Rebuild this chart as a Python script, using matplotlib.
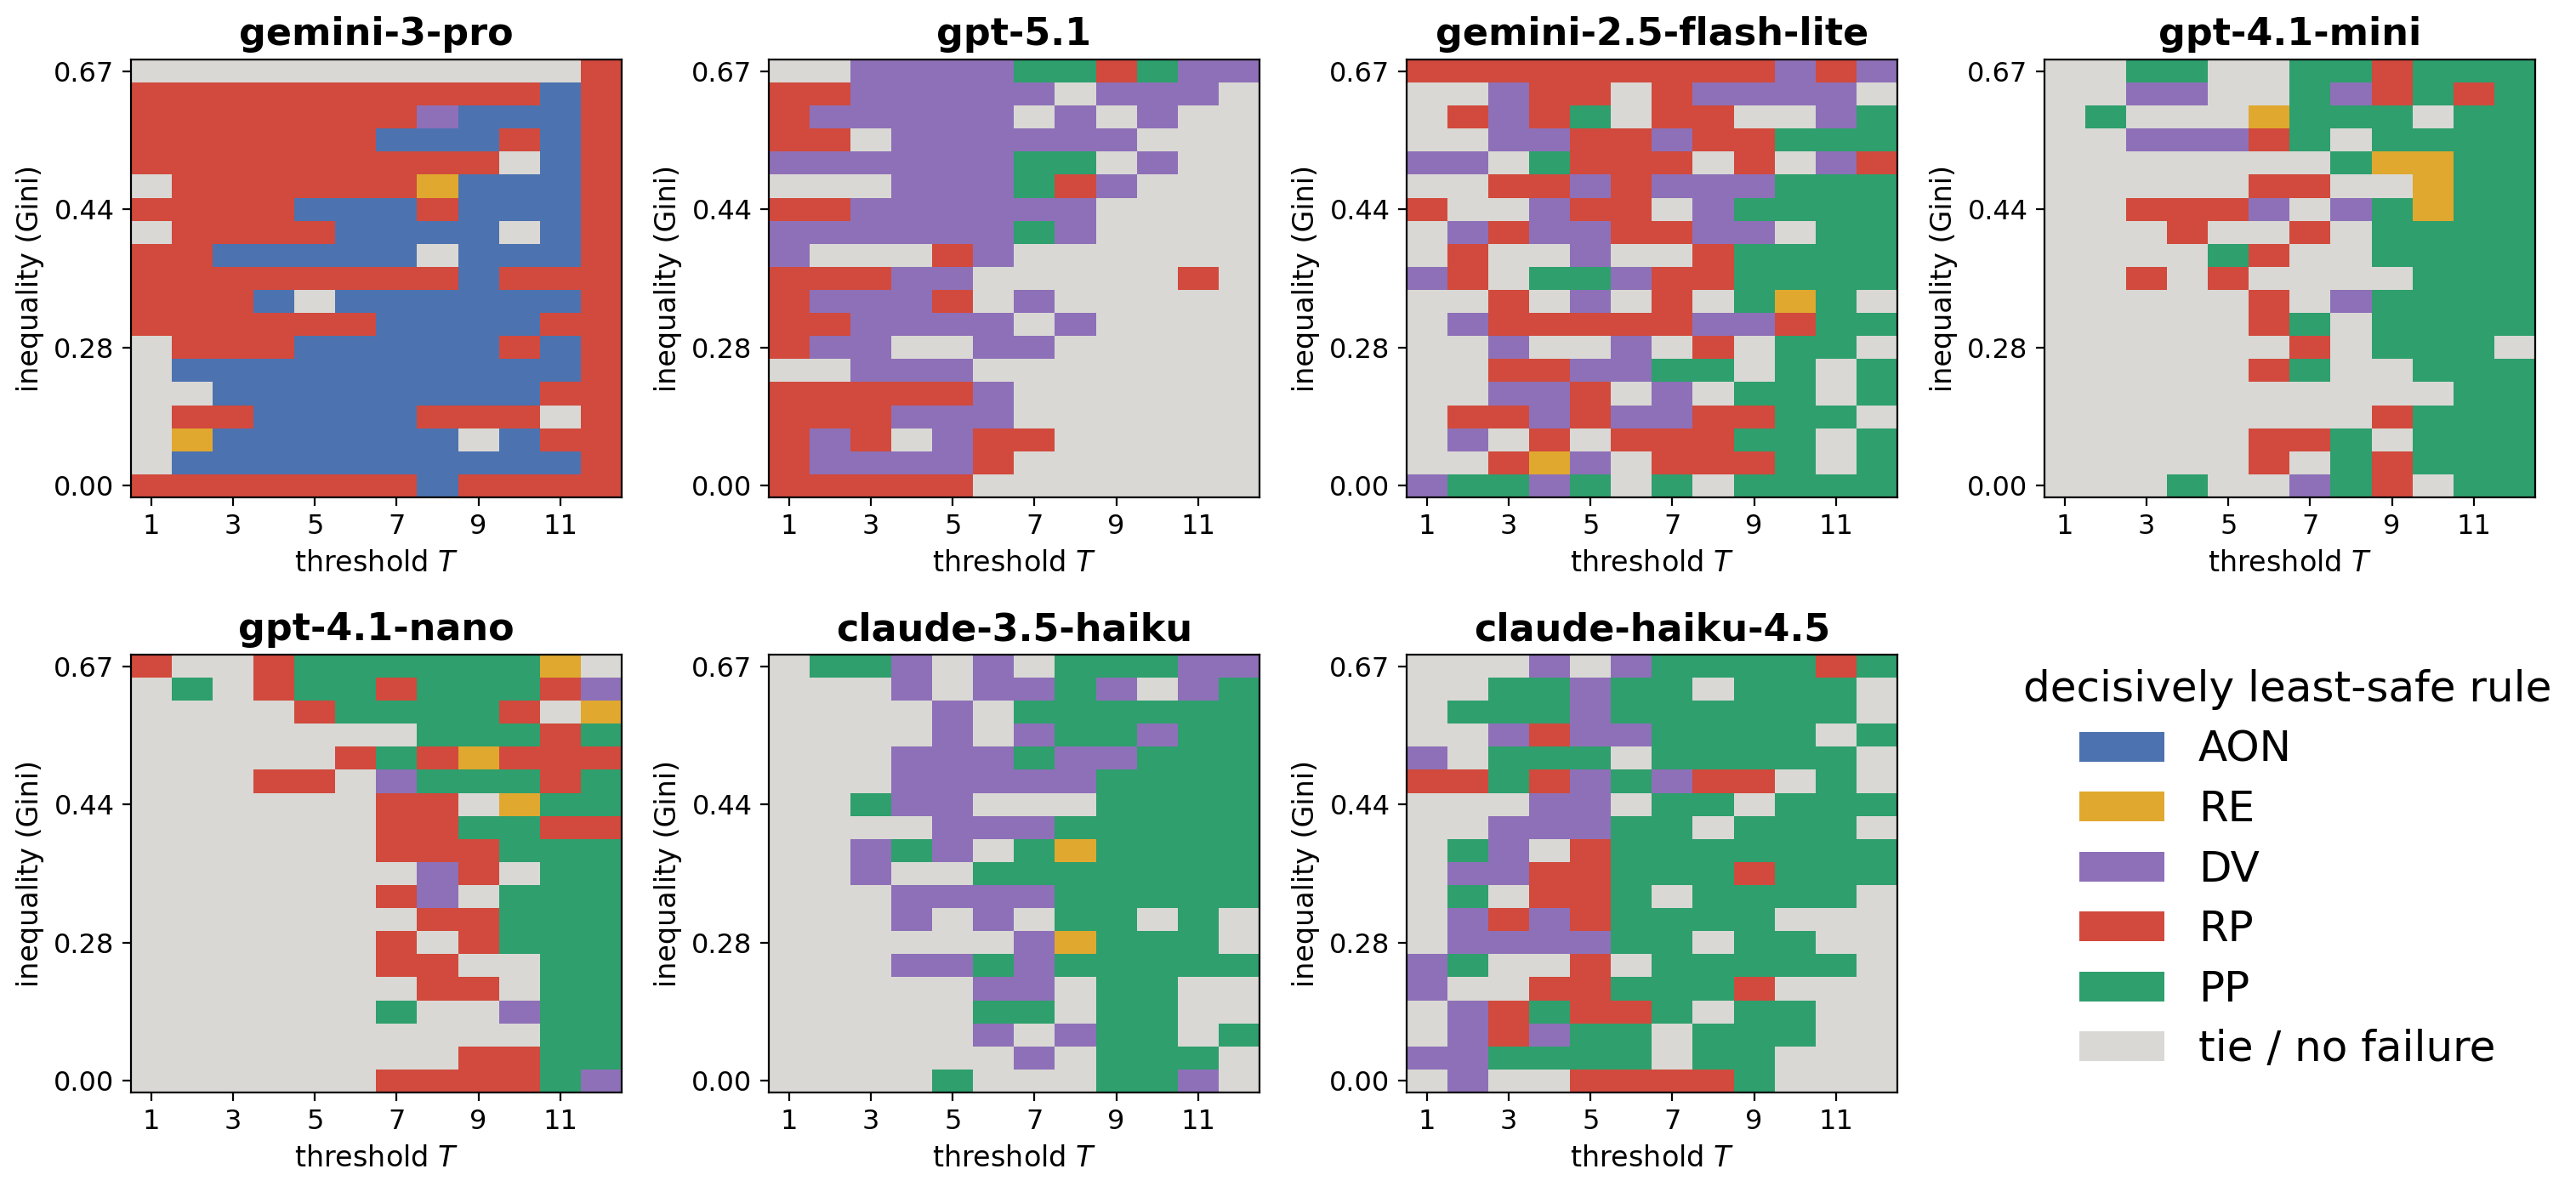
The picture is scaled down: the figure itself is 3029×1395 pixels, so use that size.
import matplotlib
matplotlib.use("Agg")
import matplotlib.pyplot as plt
import numpy as np
from matplotlib.colors import ListedColormap
from matplotlib.patches import Patch

# rule codes: A=AON, E=RE, D=DV, R=RP, P=PP, N=tie / no failure
rule_codes = ['A', 'E', 'D', 'R', 'P', 'N']
rule_names = ['AON', 'RE', 'DV', 'RP', 'PP', 'tie / no failure']
rule_colors = ['#4C72B0', '#E0A82E', '#8E70B8', '#D14A3D', '#2E9F6D', '#D9D8D4']

thresholds = list(range(1, 13))
gini_tick_rows = [0, 6, 12, 18]
gini_tick_labels = ['0.00', '0.28', '0.44', '0.67']

models = ['gemini-3-pro', 'gpt-5.1', 'gemini-2.5-flash-lite', 'gpt-4.1-mini',
          'gpt-4.1-nano', 'claude-3.5-haiku', 'claude-haiku-4.5']

# each grid: rows listed from top (Gini 0.67) down to bottom (Gini 0.00), columns T=1..12
gemini_3_pro = [
    "NNNNNNNNNNNR",
    "RRRRRRRRRRAR",
    "RRRRRRRDAAAR",
    "RRRRRRAAARAR",
    "RRRRRRRRRNAR",
    "NRRRRRREAAAR",
    "RRRRAAARAAAR",
    "NRRRRAAAANAR",
    "RRAAAAANAAAR",
    "RRRRRRRRARRR",
    "RRRANAAAAAAR",
    "RRRRRRAAAARR",
    "NRRRAAAAARAR",
    "NAAAAAAAAAAR",
    "NNAAAAAAAARR",
    "NRRAAAARRRNR",
    "NEAAAAAANARR",
    "NAAAAAAAAAAR",
    "RRRRRRRARRRR",
]

gpt_5_1 = [
    "NNDDDDPPRPDD",
    "RRDDDDDNDDDN",
    "RDDDDDNDNDNN",
    "RRNDDDDDDNNN",
    "DDDDDDPPNDNN",
    "NNNDDDPRDNNN",
    "RRDDDDDDNNNN",
    "DDDDDDPDNNNN",
    "DNNNRDNNNNNN",
    "RRRDDNNNNNRN",
    "RDDDRNDNNNNN",
    "RRDDDDNDNNNN",
    "RDDNNDDNNNNN",
    "NNDDDNNNNNNN",
    "RRRRRDNNNNNN",
    "RRRDDDNNNNNN",
    "RDRNDRRNNNNN",
    "RDDDDRNNNNNN",
    "RRRRRNNNNNNN",
]

gemini_2_5_flash_lite = [
    "RRRRRRRRRDRD",
    "NNDRRNRDDDDN",
    "NRDRPNRRNNDP",
    "NNDDRRDRRPPP",
    "DDNPRRRNRNDR",
    "NNRRDRDDDPPP",
    "RNNDRRNDPPPP",
    "NDRDDRRDDNPP",
    "NRNNDNNRPPPP",
    "DRNPPDRRPPPP",
    "NNRNDNRNPEPN",
    "NDRRRRRDDRPP",
    "NNDNNDNRNPPN",
    "NNRRDDPPNPNP",
    "NNDDRNDNPPNP",
    "NRRDRDDRRPPN",
    "NDNRNRRRPPNP",
    "NNREDNRRRPNP",
    "DPPDPNPNPPPP",
]

gpt_4_1_mini = [
    "NNPPNNPPRPPP",
    "NNDDNNPDRPRP",
    "NPNNNEPPPNPP",
    "NNDDDRPNPPPP",
    "NNNNNNNPEEPP",
    "NNNNNRRNNEPP",
    "NNRRRDNDPEPP",
    "NNNRNNRNPPPP",
    "NNNNPRNNPPPP",
    "NNRNRNNNNPPP",
    "NNNNNRNDPPPP",
    "NNNNNRPNPPPP",
    "NNNNNNRNPPPN",
    "NNNNNRPNNPPP",
    "NNNNNNNNNNPP",
    "NNNNNNNNRPPP",
    "NNNNNRRPNPPP",
    "NNNNNRNPRPPP",
    "NNNPNNDPRNPP",
]

gpt_4_1_nano = [
    "RNNRPPPPPPEN",
    "NPNRPPRPPPRD",
    "NNNNRPPPPRNE",
    "NNNNNNNPPPRP",
    "NNNNNRPRERRR",
    "NNNRRNDPPPRP",
    "NNNNNNRRNEPP",
    "NNNNNNRRPPRR",
    "NNNNNNRRRPPP",
    "NNNNNNNDRNPP",
    "NNNNNNRDNPPP",
    "NNNNNNNRRPPP",
    "NNNNNNRNRPPP",
    "NNNNNNRRNNPP",
    "NNNNNNNRRNPP",
    "NNNNNNPNNDPP",
    "NNNNNNNNNNPP",
    "NNNNNNNNRRPP",
    "NNNNNNRRRRPD",
]

claude_3_5_haiku = [
    "NPPDNDNPPPDD",
    "NNNDNDDPDNDP",
    "NNNNDNPPPPPP",
    "NNNNDNDPPDPP",
    "NNNDDDPDDPPP",
    "NNNDDDDDPPPP",
    "NNPDDNNNPPPP",
    "NNNNDDDPPPPP",
    "NNDPDNPEPPPP",
    "NNDNNPPPPPPP",
    "NNNDDDDPPPPP",
    "NNNDNDNPPNPN",
    "NNNNNNDEPPPN",
    "NNNDDPDPPPPP",
    "NNNNNDDNPPNN",
    "NNNNNPPNPPNN",
    "NNNNNDNDPPNP",
    "NNNNNNDNPPPN",
    "NNNNPNNNPPDN",
]

claude_haiku_4_5 = [
    "NNNDNDPPPPRP",
    "NNPPDPPNPPPN",
    "NPPPDPPPPPPN",
    "NNDRDDPPPPNP",
    "DNPPPNPPPPPN",
    "RRPRDPDRRNPN",
    "NNNDDNPPNPPP",
    "NNDDDPPNPPPN",
    "NPDNRPPPPPPP",
    "NDDRRPPPRPPP",
    "NPNRRPNPPPPN",
    "NDRDRPPPPNNN",
    "NDDDDPPNPPNN",
    "DPNNRNPPPPPN",
    "DNNRRPPPRNNN",
    "NDRPRRPNPPNN",
    "NDRDPPNPPPNN",
    "DDPPPPNPPNNN",
    "NDNNRRRRPNNN",
]

grids = [gemini_3_pro, gpt_5_1, gemini_2_5_flash_lite, gpt_4_1_mini,
         gpt_4_1_nano, claude_3_5_haiku, claude_haiku_4_5]

cmap = ListedColormap(rule_colors)
n_rows = len(gemini_3_pro)

fig, axes = plt.subplots(2, 4, figsize=(15.145, 6.975), dpi=200)
fig.subplots_adjust(left=0.0508, right=0.9841, top=0.9498, bottom=0.0789,
                    wspace=0.30, hspace=0.36)

for ax, name, grid in zip(axes.flat, models, grids):
    mat = np.array([[rule_codes.index(c) for c in row] for row in grid])
    ax.imshow(mat, cmap=cmap, vmin=-0.5, vmax=len(rule_codes) - 0.5,
              interpolation='nearest', aspect='auto', origin='upper',
              extent=(thresholds[0] - 0.5, thresholds[-1] + 0.5, -0.5, n_rows - 0.5))
    ax.set_title(name, fontsize=16, fontweight='bold')
    ax.set_xticks(thresholds[::2])
    ax.set_yticks(gini_tick_rows)
    ax.set_yticklabels(gini_tick_labels)
    ax.tick_params(labelsize=11.5)
    ax.set_xlabel('threshold $T$', fontsize=12)
    ax.set_ylabel('inequality (Gini)', fontsize=12)

axes.flat[-1].axis('off')

handles = [Patch(facecolor=c, label=l) for c, l in zip(rule_colors, rule_names)]
fig.legend(handles=handles, title='decisively least-safe rule', loc='center',
           bbox_to_anchor=(0.888, 0.267), frameon=False, fontsize=18,
           title_fontsize=18, labelspacing=0.45, handlelength=2.0)

fig.savefig('out.png', dpi=200)
